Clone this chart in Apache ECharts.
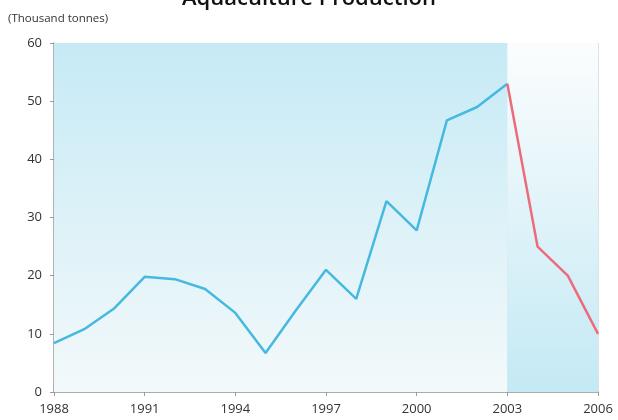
<!DOCTYPE html>
<html>
<head>
<meta charset="utf-8">
<script src="https://cdn.jsdelivr.net/npm/echarts@6/dist/echarts.min.js"></script>
<style>
html,body{margin:0;padding:0;background:#fff;}
#chart{width:618px;height:420px;}
</style>
</head>
<body>
<div id="chart"></div>
<script>
var years = [1988,1989,1990,1991,1992,1993,1994,1995,1996,1997,1998,1999,2000,2001,2002,2003,2004,2005,2006];
var production = [8.4,10.8,14.4,19.8,19.4,17.7,13.6,6.7,14,21,16,32.8,27.8,46.7,49,53,25,20,10];
var splitYear = 2003;

var past = [], recent = [];
for (var i = 0; i < years.length; i++) {
    if (years[i] <= splitYear) past.push([years[i], production[i]]);
    if (years[i] >= splitYear) recent.push([years[i], production[i]]);
}

var myChart = echarts.init(document.querySelector("#chart"));
var font = "'Open Sans', sans-serif";

option = {
    animation: false,
    title: {
        text: 'Aquaculture Production',
        left: 'center',
        top: -17,
        textStyle: { fontFamily: font, fontSize: 22, fontWeight: 600, color: '#111' }
    },
    grid: { left: 54, right: 20, top: 43, bottom: 28 },
    xAxis: {
        type: 'value',
        min: 1988,
        max: 2006,
        interval: 3,
        axisLine: { lineStyle: { color: '#999', width: 1.5 } },
        axisTick: { show: true, length: 4, lineStyle: { color: '#999' } },
        axisLabel: { color: '#333', fontFamily: font, fontSize: 13, margin: 11,
            formatter: function (v) { return String(v); } },
        splitLine: { show: true, lineStyle: { color: '#d8e4e8', width: 1 } }
    },
    yAxis: {
        type: 'value',
        min: 0,
        max: 60,
        interval: 10,
        name: '(Thousand tonnes)',
        nameLocation: 'end',
        nameGap: 18,
        nameTextStyle: { color: '#333', fontFamily: font, fontSize: 11.5, align: 'left', padding: [0, 0, 0, -46] },
        axisLine: { show: true, lineStyle: { color: '#999', width: 1.5 } },
        axisTick: { show: true, length: 4, lineStyle: { color: '#999' } },
        axisLabel: { color: '#333', fontFamily: font, fontSize: 13, margin: 12 },
        splitLine: { show: true, lineStyle: { color: '#dde8ec', width: 1 } }
    },
    series: [{
        name: 'past',
        type: 'line',
        data: past,
        symbol: 'none',
        lineStyle: { color: '#45b9e0', width: 2.5 },
        z: 3,
        markArea: {
            silent: true,
            data: [
                [{
                    xAxis: 1988, yAxis: 60,
                    itemStyle: { color: new echarts.graphic.LinearGradient(0, 0, 0, 1, [
                        { offset: 0, color: '#c6eaf6' },
                        { offset: 1, color: '#f3f9fa' }
                    ]) }
                }, { xAxis: splitYear, yAxis: 0 }],
                [{
                    xAxis: splitYear, yAxis: 60,
                    itemStyle: { color: new echarts.graphic.LinearGradient(0, 0, 0, 1, [
                        { offset: 0, color: '#fbfdfd' },
                        { offset: 1, color: '#c4e9f5' }
                    ]) }
                }, { xAxis: 2006, yAxis: 0 }]
            ]
        }
    }, {
        name: 'recent',
        type: 'line',
        data: recent,
        symbol: 'none',
        lineStyle: { color: '#ec6c7c', width: 2.5 },
        z: 3
    }]
};

myChart.setOption(option);
</script>
</body>
</html>
